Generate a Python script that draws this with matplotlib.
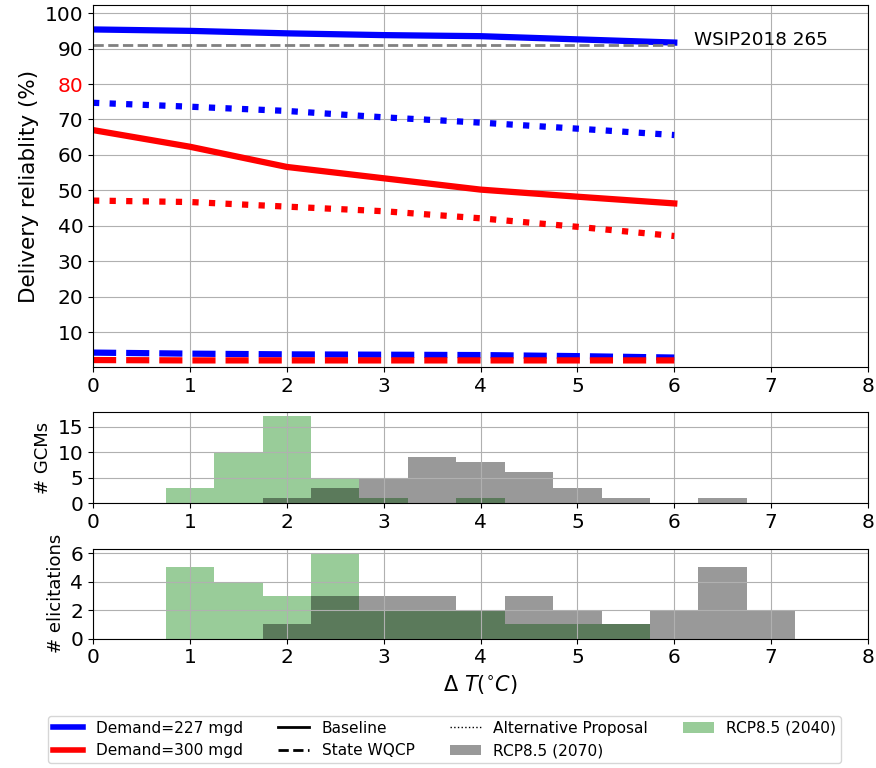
import matplotlib
matplotlib.use('Agg')
import matplotlib.pyplot as plt
from matplotlib.lines import Line2D
from matplotlib.patches import Patch

# warming levels (deg C)
dT = [0, 1, 2, 3, 4, 5, 6]

# delivery reliability (%)
d227_baseline = [95.4, 95.0, 94.3, 93.8, 93.5, 92.6, 91.7]
d227_wqcp = [4.2, 3.9, 3.7, 3.6, 3.5, 3.2, 2.8]
d227_alt = [74.7, 73.6, 72.4, 70.6, 69.1, 67.4, 65.6]
d300_baseline = [67.0, 62.3, 56.6, 53.4, 50.2, 48.2, 46.3]
d300_wqcp = [2.1, 2.0, 2.0, 2.0, 2.0, 2.0, 2.0]
d300_alt = [47.1, 46.7, 45.4, 44.1, 42.1, 39.7, 37.1]
wsip_value = 91

# histogram bins and counts
bin_edges = [0.75, 1.25, 1.75, 2.25, 2.75, 3.25, 3.75, 4.25, 4.75, 5.25, 5.75, 6.25, 6.75, 7.25]
bin_centers = [1.0, 1.5, 2.0, 2.5, 3.0, 3.5, 4.0, 4.5, 5.0, 5.5, 6.0, 6.5, 7.0]
gcm_2040 = [3, 10, 17, 5, 1, 0, 1, 0, 0, 0, 0, 0, 0]
gcm_2070 = [0, 0, 1, 3, 5, 9, 8, 6, 3, 1, 0, 1, 0]
elic_2040 = [5, 4, 3, 6, 2, 2, 2, 1, 1, 1, 0, 0, 0]
elic_2070 = [0, 0, 1, 3, 3, 3, 2, 3, 2, 1, 2, 5, 2]

fig = plt.figure(figsize=(8.76, 7.68), dpi=100)
ax = fig.add_axes([0.1062, 0.5215, 0.8847, 0.472])
ax1 = fig.add_axes([0.1062, 0.345, 0.8847, 0.1185])
ax2 = fig.add_axes([0.1062, 0.1684, 0.8847, 0.1168])

lw = 4.5
ax.plot(dT, d227_baseline, color='blue', ls='-', lw=lw)
ax.plot(dT, d227_wqcp, color='blue', ls='--', lw=lw)
ax.plot(dT, d227_alt, color='blue', ls=':', lw=lw)
ax.plot(dT, d300_baseline, color='red', ls='-', lw=lw)
ax.plot(dT, d300_wqcp, color='red', ls='--', lw=lw)
ax.plot(dT, d300_alt, color='red', ls=':', lw=lw)
ax.plot([dT[0], dT[-1]], [wsip_value, wsip_value], color='gray', ls='--', lw=2)
ax.text(6.2, wsip_value, 'WSIP2018 265', fontsize=13.2)

ax.set_xlim(0, 8)
ax.set_ylim(0, 102.3)
ax.set_yticks(range(10, 101, 10))
ax.tick_params(labelsize=14.5)
ax.get_yticklabels()[7].set_color('red')
ax.set_ylabel('Delivery reliablity (%)', fontsize=15.5)
ax.grid(True)

for a, c40, c70, lab in [(ax1, gcm_2040, gcm_2070, '# GCMs'),
                         (ax2, elic_2040, elic_2070, '# elicitations')]:
    a.hist(bin_centers, bins=bin_edges, weights=c40, color='green', alpha=0.4)
    a.hist(bin_centers, bins=bin_edges, weights=c70, color='k', alpha=0.4)
    a.set_xlim(0, 8)
    a.set_ylabel(lab, fontsize=13)
    a.tick_params(labelsize=14.5)
    a.grid(True)
ax1.set_yticks([0, 5, 10, 15])
ax2.set_yticks([0, 2, 4, 6])
ax2.set_xlabel(r'$\Delta\ T(^{\circ}C)$', fontsize=15)

handles = [
    Line2D([], [], color='blue', lw=4),
    Line2D([], [], color='red', lw=4),
    Line2D([], [], color='k', ls='-', lw=2),
    Line2D([], [], color='k', ls='--', lw=2),
    Line2D([], [], color='k', ls=':', lw=1),
    Patch(facecolor='k', edgecolor='none', alpha=0.4),
    Patch(facecolor='green', edgecolor='none', alpha=0.4),
]
labels = ['Demand=227 mgd', 'Demand=300 mgd', 'Baseline', 'State WQCP',
          'Alternative Proposal', 'RCP8.5 (2070)', 'RCP8.5 (2040)']
fig.legend(handles, labels, ncol=4, loc='upper center', bbox_to_anchor=(0.5074, 0.0677),
           fontsize=11.1, labelspacing=0.5, borderpad=0.3, borderaxespad=0,
           columnspacing=2.3)

fig.savefig('out.png', dpi=100)
